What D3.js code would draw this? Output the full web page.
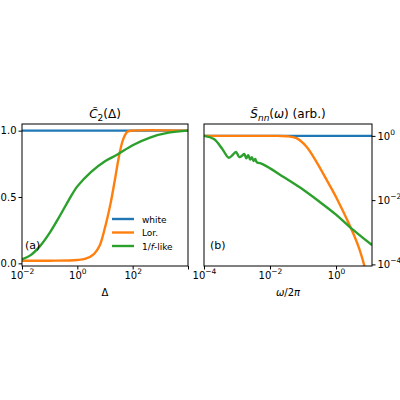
<!DOCTYPE html>
<html><head><meta charset="utf-8">
<script src="https://cdn.jsdelivr.net/npm/d3@7"></script>
<style>body{margin:0;background:#fff}text{font-family:"DejaVu Sans",sans-serif;fill:#000}</style>
</head><body>
<svg id="c" width="400" height="400"></svg>
<script>
// panel (a): log10(Delta) vs C2
var whiteA = [[-2, 1], [4, 1]];
var lorA = [[-2, 0.02], [-1, 0.02], [0, 0.025], [0.3, 0.035], [0.6, 0.07], [0.8, 0.13], [1.0, 0.27], [1.2, 0.45], [1.35, 0.62], [1.5, 0.8], [1.65, 0.93], [1.8, 0.99], [2.0, 1], [4, 1]];
var fA = [[-2, 0.03], [-1.7, 0.06], [-1.35, 0.13], [-1, 0.23], [-0.6, 0.37], [-0.3, 0.48], [0, 0.58], [0.5, 0.69], [1, 0.77], [1.45, 0.82], [2, 0.89], [2.65, 0.95], [3.3, 0.985], [4, 1]];
// panel (b): log10(omega/2pi) vs log10(S)
var whiteB = [[-4, 0], [1.09, 0]];
var lorB = [[-4, 0], [-2, 0], [-1.5, -0.01], [-1.2, -0.07], [-0.9, -0.33], [-0.58, -0.83], [-0.3, -1.34], [0, -1.9], [0.42, -2.8], [0.7, -3.5], [0.9, -4.2]];
var fB = [[-4, 0], [-3.7, -0.1], [-3.45, -0.4], [-3.25, -0.68], [-3.12, -0.58], [-3.03, -0.5], [-2.93, -0.66], [-2.85, -0.62], [-2.78, -0.56], [-2.72, -0.7], [-2.66, -0.6], [-2.6, -0.74], [-2.55, -0.66], [-2.5, -0.78], [-2.45, -0.72], [-2.4, -0.82], [-2.3, -0.85], [-2.1, -0.95], [-1.6, -1.27], [-1.1, -1.6], [-0.5, -2.05], [0, -2.45], [0.42, -2.84], [1.09, -3.4]];
var colors = {white: "#1f77b4", lor: "#ff7f0e", f: "#2ca02c"};
var legendNames = ["white", "Lor.", "1/f-like"];

var svg = d3.select("#c");
function sup(sel, e) {
  sel.text(null);
  sel.append("tspan").text("10");
  sel.append("tspan").attr("dy", -5).attr("font-size", 7.5).text("\u2212" + Math.abs(e)).text(e < 0 ? "\u2212" + Math.abs(e) : e);
}
function frame(g, w, h) {
  g.append("rect").attr("width", w).attr("height", h).attr("fill", "none").attr("stroke", "#000").attr("stroke-width", 1);
}
function draw(g, x, y, data, c) {
  g.append("path").datum(data).attr("fill", "none").attr("stroke", c).attr("stroke-width", 2.4)
    .attr("d", d3.line().x(function(d){return x(d[0]);}).y(function(d){return y(d[1]);}).curve(d3.curveCatmullRom));
}

// panel a
var ga = svg.append("g").attr("transform", "translate(22,124)");
var wa = 166, ha = 142;
var xa = d3.scaleLinear().domain([-2, 4]).range([0, wa]);
var ya = d3.scaleLinear().domain([-0.02, 1.05]).range([ha, 0]);
ga.append("clipPath").attr("id", "ca").append("rect").attr("width", wa).attr("height", ha);
var pa = ga.append("g").attr("clip-path", "url(#ca)");
draw(pa, xa, ya, whiteA, colors.white);
draw(pa, xa, ya, lorA, colors.lor);
draw(pa, xa, ya, fA, colors.f);
frame(ga, wa, ha);
var axa = ga.append("g").attr("transform", "translate(0," + ha + ")").call(d3.axisBottom(xa).tickValues([-2, 0, 2, 4]).tickSize(3.5).tickPadding(2));
axa.selectAll("text").attr("font-size", 10).each(function(d){ if (d == 4) d3.select(this).remove(); else sup(d3.select(this), d); });
var aya = ga.append("g").call(d3.axisLeft(ya).tickValues([0, 0.5, 1]).tickFormat(d3.format(".1f")).tickSize(3.5).tickPadding(2));
aya.selectAll("text").attr("font-size", 10);
[axa, aya].forEach(function(a){ a.select(".domain").remove(); });
var ta = ga.append("text").attr("x", wa/2).attr("y", -6).attr("text-anchor", "middle").attr("font-size", 12);
ta.append("tspan").attr("font-style", "italic").text("C\u0303");
ta.append("tspan").attr("font-size", 9).attr("dy", 3).text("2");
ta.append("tspan").attr("dy", -3).text("(\u0394)");
ga.append("text").attr("x", wa/2).attr("y", ha + 30).attr("text-anchor", "middle").attr("font-size", 10).text("Δ");
ga.append("text").attr("x", 3).attr("y", 125).attr("font-size", 11).text("(a)");
var lg = ga.append("g").attr("transform", "translate(90,95)");
[colors.white, colors.lor, colors.f].forEach(function(c, i){
  lg.append("line").attr("x1", 0).attr("x2", 22).attr("y1", i*13.5).attr("y2", i*13.5).attr("stroke", c).attr("stroke-width", 2.4);
  var t = lg.append("text").attr("x", 30).attr("y", i*13.5 + 3.5).attr("font-size", 9);
  if (i == 2) { t.append("tspan").text("1/"); t.append("tspan").attr("font-style", "italic").text("f"); t.append("tspan").text("-like"); }
  else t.text(legendNames[i]);
});

// panel b
var gb = svg.append("g").attr("transform", "translate(204,124)");
var wb = 168, hb = 142;
var xb = d3.scaleLinear().domain([-4, 1.09]).range([0, wb]);
var yb = d3.scaleLinear().domain([-4.05, 0.37]).range([hb, 0]);
gb.append("clipPath").attr("id", "cb").append("rect").attr("width", wb).attr("height", hb);
var pb = gb.append("g").attr("clip-path", "url(#cb)");
draw(pb, xb, yb, whiteB, colors.white);
draw(pb, xb, yb, lorB, colors.lor);
draw(pb, xb, yb, fB, colors.f);
frame(gb, wb, hb);
var axb = gb.append("g").attr("transform", "translate(0," + hb + ")").call(d3.axisBottom(xb).tickValues([-4, -2, 0]).tickSize(3.5).tickPadding(2));
axb.selectAll("text").attr("font-size", 10).each(function(d){ sup(d3.select(this), d); });
var ayb = gb.append("g").attr("transform", "translate(" + wb + ",0)").call(d3.axisRight(yb).tickValues([-4, -2, 0]).tickSize(3.5).tickPadding(2));
ayb.selectAll("text").attr("font-size", 10).each(function(d){ sup(d3.select(this), d); });
[axb, ayb].forEach(function(a){ a.select(".domain").remove(); });
var tb = gb.append("text").attr("x", wb/2).attr("y", -6).attr("text-anchor", "middle").attr("font-size", 12);
tb.append("tspan").attr("font-style", "italic").text("S\u0303");
tb.append("tspan").attr("font-style", "italic").attr("font-size", 9).attr("dy", 3).text("nn");
tb.append("tspan").attr("dy", -3).text("(");
tb.append("tspan").attr("font-style", "italic").text("ω");
tb.append("tspan").text(") (arb.)");
var xl = gb.append("text").attr("x", wb/2).attr("y", hb + 30).attr("text-anchor", "middle").attr("font-size", 10);
xl.append("tspan").attr("font-style", "italic").text("ω");
xl.append("tspan").text("/2");
xl.append("tspan").attr("font-style", "italic").text("π");
gb.append("text").attr("x", 6).attr("y", 125).attr("font-size", 11).text("(b)");
</script>
</body></html>
